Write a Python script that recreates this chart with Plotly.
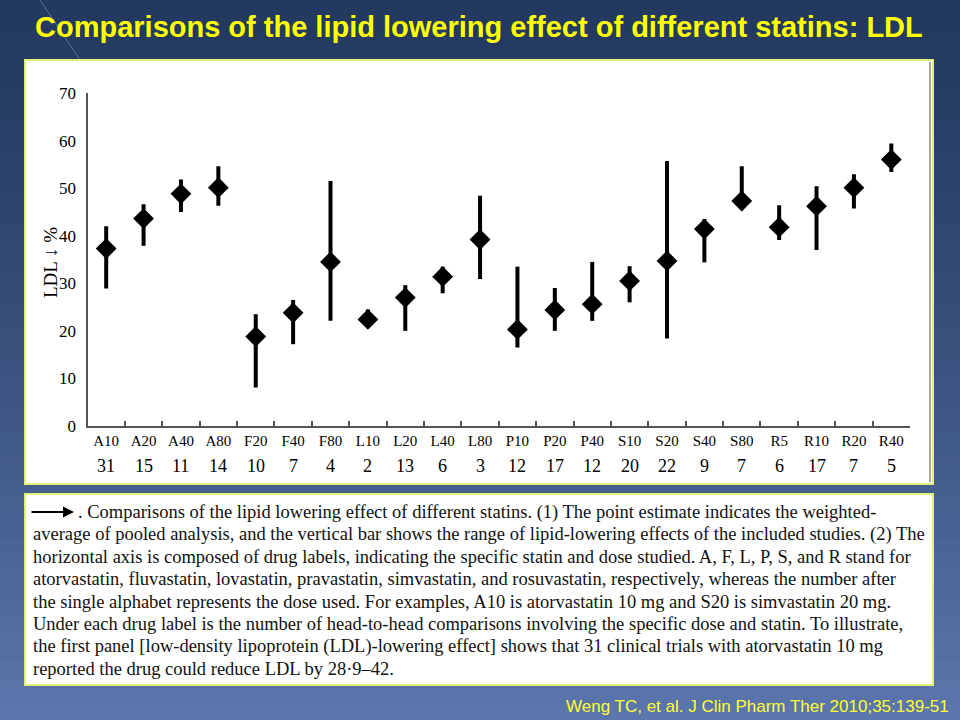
import plotly.graph_objects as go

# ---------------- data ----------------
drugs = ["A10", "A20", "A40", "A80", "F20", "F40", "F80", "L10", "L20", "L40", "L80",
         "P10", "P20", "P40", "S10", "S20", "S40", "S80", "R5", "R10", "R20", "R40"]
n_trials = [31, 15, 11, 14, 10, 7, 4, 2, 13, 6, 3, 12, 17, 12, 20, 22, 9, 7, 6, 17, 7, 5]
ldl_point = [37.3, 43.6, 48.8, 50.1, 18.8, 23.8, 34.5, 22.4, 27.0, 31.4, 39.2,
             20.3, 24.4, 25.6, 30.5, 34.7, 41.4, 47.3, 41.8, 46.2, 50.1, 56.0]
ldl_high = [42.0, 46.6, 51.8, 54.6, 23.5, 26.5, 51.5, 24.5, 29.6, 33.5, 48.4,
            33.5, 29.0, 34.5, 33.6, 55.7, 43.5, 54.6, 46.4, 50.4, 52.9, 59.4]
ldl_low = [28.9, 37.9, 45.0, 46.3, 8.1, 17.2, 22.1, 22.0, 20.0, 27.9, 30.9,
           16.5, 20.0, 22.1, 26.0, 18.4, 34.4, 45.4, 39.1, 37.0, 45.7, 53.4]
y_ticks = [0, 10, 20, 30, 40, 50, 60, 70]

title_text = "Comparisons of the lipid lowering effect of different statins: LDL"
caption_lines = [
    ". Comparisons of the lipid lowering effect of different statins. (1) The point estimate indicates the weighted-",
    "average of pooled analysis, and the vertical bar shows the range of lipid-lowering effects of the included studies. (2) The",
    "horizontal axis is composed of drug labels, indicating the specific statin and dose studied. A, F, L, P, S, and R stand for",
    "atorvastatin, fluvastatin, lovastatin, pravastatin, simvastatin, and rosuvastatin, respectively, whereas the number after",
    "the single alphabet represents the dose used. For examples, A10 is atorvastatin 10 mg and S20 is simvastatin 20 mg.",
    "Under each drug label is the number of head-to-head comparisons involving the specific dose and statin. To illustrate,",
    "the first panel [low-density lipoprotein (LDL)-lowering effect] shows that 31 clinical trials with atorvastatin 10 mg",
    "reported the drug could reduce LDL by 28\u00b79\u201342.",
]
footer_text = "Weng TC, et al. J Clin Pharm Ther 2010;35:139-51"

W, H = 960, 720
def px(x):
    return x / W
def py(y):
    return 1 - y / H

err_plus = [h - p for h, p in zip(ldl_high, ldl_point)]
err_minus = [p - l for p, l in zip(ldl_point, ldl_low)]

serif = "Liberation Serif, Times New Roman, serif"

fig = go.Figure()
fig.add_trace(go.Scatter(
    x=drugs, y=ldl_point, mode="markers",
    marker=dict(symbol="diamond", size=16, color="black", line=dict(width=0)),
    error_y=dict(type="data", symmetric=False, array=err_plus, arrayminus=err_minus,
                 thickness=4, width=0, color="black"),
    showlegend=False, cliponaxis=False,
))

shapes = []
# background gradient
top_c = (35, 57, 95)
bot_c = (90, 118, 172)
nb = 48
for i in range(nb):
    t = i / (nb - 1)
    c = tuple(int(round(top_c[k] + (bot_c[k] - top_c[k]) * (t ** 1.3))) for k in range(3))
    shapes.append(dict(type="rect", xref="paper", yref="paper", layer="below",
                       x0=0, x1=1, y0=1 - (i + 1) / nb - 0.002, y1=1 - i / nb,
                       fillcolor="rgb(%d,%d,%d)" % c, line=dict(width=0)))
# faint decorative diagonal
shapes.append(dict(type="line", xref="paper", yref="paper", layer="below",
                   x0=px(40), y0=py(0), x1=px(80), y1=py(60),
                   line=dict(color="rgba(150,170,210,0.5)", width=1)))
# chart panel
shapes.append(dict(type="rect", xref="paper", yref="paper", layer="below",
                   x0=px(25), x1=px(933), y0=py(484), y1=py(60),
                   fillcolor="white", line=dict(color="#e4ee7a", width=2)))
shapes.append(dict(type="line", xref="paper", yref="paper", layer="below",
                   x0=px(930), x1=px(930), y0=py(482), y1=py(62),
                   line=dict(color="#8a8a8a", width=1.5)))
# caption panel
shapes.append(dict(type="rect", xref="paper", yref="paper", layer="below",
                   x0=px(25), x1=px(933), y0=py(685), y1=py(494),
                   fillcolor="white", line=dict(color="#e4ee7a", width=2)))

annotations = []
# title
annotations.append(dict(text="<b>" + title_text + "</b>", xref="paper", yref="paper",
                        x=px(479), y=py(27), xanchor="center", yanchor="middle",
                        showarrow=False,
                        font=dict(family="Liberation Sans Narrow, Arial Narrow, Liberation Sans, Arial",
                                  size=29, color="#ffff00")))
# y-axis title
annotations.append(dict(text="LDL \u2193 %", xref="paper", yref="paper",
                        x=px(50), y=py(263), xanchor="center", yanchor="middle",
                        textangle=-90, showarrow=False,
                        font=dict(family=serif, size=19, color="black")))
# counts under labels
for d, n in zip(drugs, n_trials):
    annotations.append(dict(text=str(n), x=d, xref="x", yref="paper", y=py(466),
                            xanchor="center", yanchor="middle", showarrow=False,
                            font=dict(family=serif, size=18, color="black")))
# caption lines
y0 = 512
for i, line in enumerate(caption_lines):
    xstart = 76 if i == 0 else 31
    annotations.append(dict(text=line, xref="paper", yref="paper",
                            x=px(xstart), y=py(y0 + i * 22.4), xanchor="left", yanchor="middle",
                            showarrow=False,
                            font=dict(family=serif, size=18.5, color="#111111")))
# arrow in caption
annotations.append(dict(text="", xref="paper", yref="paper", axref="pixel", ayref="pixel",
                        x=px(74), y=py(512), ax=-44, ay=0, showarrow=True,
                        arrowhead=2, arrowsize=1.1, arrowwidth=2, arrowcolor="black"))
# footer
annotations.append(dict(text=footer_text, xref="paper", yref="paper",
                        x=px(951), y=py(706), xanchor="right", yanchor="middle",
                        showarrow=False,
                        font=dict(family="Liberation Sans, Arial", size=17, color="#ffff33")))

fig.update_layout(
    template="none",
    width=W, height=H, autosize=False,
    margin=dict(l=0, r=0, t=0, b=0, pad=0),
    paper_bgcolor="rgb(35,57,95)",
    plot_bgcolor="white",
    shapes=shapes,
    annotations=annotations,
    xaxis=dict(domain=[px(87.5), px(910)], type="category", range=[-0.5, 21.5],
               automargin=False,
               showline=True, linecolor="#555555", linewidth=2,
               ticks="inside", tickson="boundaries", ticklen=5, tickcolor="#555555",
               tickwidth=1.5, showgrid=False, zeroline=False,
               tickfont=dict(family=serif, size=15, color="black"),
               fixedrange=True),
    yaxis=dict(domain=[py(426), py(93)], range=[0, 70], tickvals=y_ticks,
               automargin=False,
               showline=True, linecolor="#555555", linewidth=2,
               ticks="", showgrid=False, zeroline=False,
               tickfont=dict(family=serif, size=17, color="black"),
               ticklabelstandoff=6),
)

fig.write_html("out.html")
